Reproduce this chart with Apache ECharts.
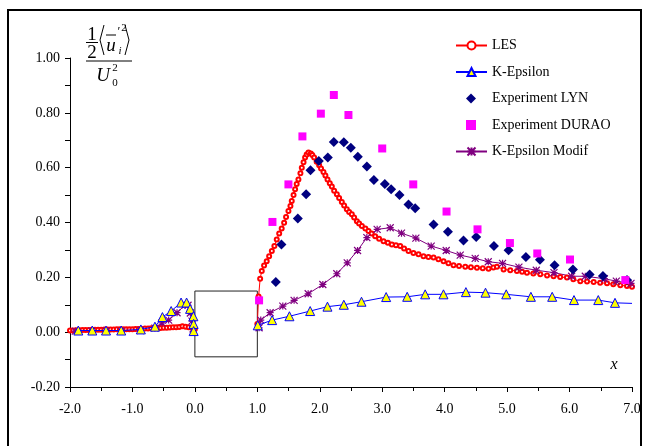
<!DOCTYPE html>
<html>
<head>
<meta charset="utf-8">
<script src="https://cdn.jsdelivr.net/npm/echarts@6/dist/echarts.min.js"></script>
<style>
  html, body { margin: 0; padding: 0; background: #fff; }
  #main { width: 648px; height: 446px; }
</style>
</head>
<body>
<div id="main"></div>
<script>
// values, [x, value]
var les = [
  [-2.0,0.006],[-1.95,0.006],[-1.9,0.007],[-1.85,0.007],[-1.8,0.008],[-1.75,0.008],[-1.7,0.008],[-1.65,0.009],
  [-1.6,0.009],[-1.55,0.009],[-1.5,0.009],[-1.45,0.010],[-1.4,0.010],[-1.35,0.010],[-1.3,0.010],[-1.25,0.011],
  [-1.2,0.011],[-1.15,0.011],[-1.1,0.011],[-1.05,0.011],[-1.0,0.011],[-0.95,0.012],[-0.9,0.012],[-0.85,0.012],
  [-0.8,0.013],[-0.75,0.013],[-0.7,0.014],[-0.65,0.014],[-0.6,0.015],[-0.55,0.015],[-0.5,0.016],[-0.45,0.016],
  [-0.4,0.017],[-0.35,0.018],[-0.3,0.018],[-0.25,0.019],[-0.2,0.022],[-0.15,0.020],[-0.1,0.018],[-0.05,0.016],
  [0.0,0.012],
  [0.5,null],
  [1.0,0.03],[1.02,0.13],[1.045,0.195],[1.071,0.223],[1.108,0.243],[1.15,0.259],[1.189,0.277],[1.232,0.296],
  [1.273,0.314],[1.311,0.338],[1.35,0.36],[1.39,0.378],[1.429,0.399],[1.46,0.42],[1.498,0.442],[1.53,0.46],
  [1.551,0.478],[1.58,0.50],[1.605,0.521],[1.63,0.54],[1.658,0.557],[1.69,0.58],[1.712,0.600],[1.74,0.62],
  [1.765,0.637],[1.79,0.648],[1.819,0.655],[1.857,0.652],[1.88,0.646],[1.91,0.637],[1.95,0.622],[1.99,0.609],
  [2.02,0.597],[2.059,0.584],[2.09,0.571],[2.124,0.557],[2.16,0.543],[2.193,0.531],[2.23,0.516],[2.273,0.503],
  [2.31,0.489],[2.353,0.475],[2.39,0.462],[2.433,0.448],[2.47,0.438],[2.513,0.43],[2.55,0.418],[2.594,0.405],
  [2.63,0.396],[2.674,0.387],[2.73,0.378],[2.78,0.369],[2.83,0.36],[2.887,0.350],[2.95,0.341],[3.021,0.332],
  [3.09,0.326],[3.154,0.320],[3.22,0.317],[3.288,0.314],[3.35,0.305],[3.421,0.296],[3.5,0.289],[3.581,0.284],
  [3.661,0.277],[3.74,0.274],[3.822,0.272],[3.9,0.266],[3.982,0.259],[4.06,0.251],[4.142,0.244],[4.23,0.241],
  [4.33,0.239],[4.42,0.237],[4.517,0.235],[4.61,0.233],[4.703,0.231],[4.78,0.236],[4.837,0.239],[4.944,0.229],
  [5.05,0.226],[5.157,0.223],[5.24,0.220],[5.318,0.217],[5.42,0.214],[5.531,0.211],[5.64,0.207],[5.744,0.204],
  [5.85,0.201],[5.958,0.199],[6.06,0.193],[6.172,0.186],[6.28,0.185],[6.386,0.183],[6.49,0.18],[6.6,0.178],
  [6.7,0.175],[6.813,0.171],[6.92,0.168],[7.0,0.166]
];

var kEpsilon = [
  [-1.867,0.006],[-1.643,0.006],[-1.423,0.006],[-1.18,0.006],[-0.865,0.01],[-0.64,0.02],[-0.52,0.055],
  [-0.38,0.077],[-0.221,0.108],[-0.133,0.108],[-0.077,0.085],[-0.024,0.058],[-0.02,0.03],[-0.02,0.004],
  [0.5,null],
  [1.007,0.025],[1.237,0.044],[1.514,0.058],[1.846,0.077],[2.123,0.093],[2.385,0.100],[2.668,0.111],
  [3.063,0.128],[3.40,0.129],[3.688,0.138],[3.981,0.138],[4.34,0.146],[4.654,0.144],[4.986,0.138],
  [5.381,0.129],[5.722,0.129],[6.071,0.117],[6.46,0.117],[6.728,0.107],[7.0,0.105]
];

var expLyn = [
  [1.296,0.183],[1.386,0.320],[1.648,0.415],[1.781,0.503],[1.851,0.591],[1.985,0.624],[2.129,0.637],
  [2.225,0.694],[2.385,0.693],[2.497,0.673],[2.609,0.640],[2.754,0.604],[2.866,0.555],[3.042,0.540],
  [3.143,0.521],[3.277,0.500],[3.421,0.466],[3.528,0.452],[3.822,0.393],[4.052,0.366],[4.302,0.334],
  [4.505,0.347],[4.789,0.314],[5.023,0.299],[5.301,0.274],[5.526,0.264],[5.760,0.244],[6.054,0.229],
  [6.321,0.210],[6.535,0.205],[6.920,0.190]
];

var expDurao = [
  [1.028,0.116],[1.242,0.402],[1.498,0.539],[1.722,0.714],[2.017,0.797],[2.225,0.865],[2.459,0.792],
  [3.000,0.670],[3.497,0.539],[4.030,0.440],[4.526,0.375],[5.045,0.325],[5.483,0.287],[6.007,0.265],
  [6.893,0.190]
];

var kEpsModif = [
  [-1.915,0.004],[-1.65,0.004],[-1.42,0.004],[-1.18,0.004],[-0.87,0.006],[-0.64,0.015],[-0.526,0.034],
  [-0.42,0.044],[-0.286,0.071],[-0.153,0.1],[-0.11,0.098],[-0.073,0.07],[-0.046,0.04],[-0.03,0.012],
  [0.5,null],
  [1.028,0.016],[1.055,0.044],[1.205,0.071],[1.408,0.095],[1.589,0.116],[1.814,0.140],[2.049,0.174],
  [2.273,0.213],[2.44,0.253],[2.605,0.298],[2.754,0.345],[2.919,0.375],[3.128,0.381],[3.309,0.361],
  [3.539,0.343],[3.784,0.314],[4.025,0.298],[4.249,0.281],[4.489,0.269],[4.698,0.257],[4.927,0.251],
  [5.189,0.237],[5.467,0.226],[5.751,0.217],[6.033,0.204],[6.252,0.204],[6.557,0.195],[6.749,0.186],
  [6.984,0.178]
];

// the obstacle outline
var body = [[0,-0.09],[0,0.15],[1,0.15],[1,-0.09],[0,-0.09]];

var legendNames = ['LES', 'K-Epsilon', 'Experiment LYN', 'Experiment DURAO', 'K-Epsilon Modif'];
var legendIsMarkerOnly = [false, false, true, true, false];

var font = 'Liberation Serif, Times New Roman, serif';
var starPath = 'path://M5,0L5,10M0,0L10,10M10,0L0,10M0,5L10,5';

var kEpsData = kEpsilon.map(function (p, i) {
    return i === kEpsilon.length - 1 ? { value: p, symbol: 'none' } : p;
});

// one legend block per row so marker-only rows keep square symbols
var legends = legendNames.map(function (name, i) {
    var markerOnly = legendIsMarkerOnly[i];
    return {
        data: [name],
        orient: 'vertical',
        left: markerOnly ? 461 : 450,
        top: 33.5 + i * 26.5,
        itemWidth: markerOnly ? 10 : 31,
        itemHeight: markerOnly ? 10 : 10,
        textStyle: {
            fontFamily: font, fontSize: 14, color: '#000',
            padding: markerOnly ? [0, 0, 0, 11] : 0
        }
    };
});

var myChart = echarts.init(document.getElementById('main'));

var option = {
    animation: false,
    backgroundColor: '#fff',
    textStyle: { fontFamily: font, color: '#000' },
    grid: { left: 70, right: 16, top: 58, bottom: 59 },
    legend: legends,
    xAxis: {
        type: 'value',
        min: -2,
        max: 7,
        interval: 1,
        axisLine: { onZero: false, lineStyle: { color: '#000', width: 1 } },
        axisTick: { inside: false, length: 5, lineStyle: { color: '#000' } },
        minorTick: { show: true, splitNumber: 2, length: 4, lineStyle: { color: '#000' } },
        splitLine: { show: false },
        axisLabel: {
            margin: 15, fontSize: 14, color: '#000', fontFamily: font,
            formatter: function (v) { return v.toFixed(1); }
        }
    },
    yAxis: {
        type: 'value',
        min: -0.2,
        max: 1.0,
        interval: 0.2,
        axisLine: { show: true, onZero: false, lineStyle: { color: '#000', width: 1 } },
        axisTick: { show: true, inside: false, length: 5, lineStyle: { color: '#000' } },
        minorTick: { show: true, splitNumber: 2, length: 5, lineStyle: { color: '#000' } },
        splitLine: { show: false },
        axisLabel: {
            margin: 10, fontSize: 14, color: '#000', fontFamily: font,
            formatter: function (v) { return v.toFixed(2); }
        }
    },
    graphic: [
        { type: 'rect', shape: { x: 8, y: 10, width: 633, height: 460 }, style: { fill: 'none', stroke: '#000', lineWidth: 2 }, silent: true },
        // y axis title : (1/2 <u'_i^2>) / U_0^2
        { type: 'text', x: 92, y: 35, style: { text: '1', font: '19px ' + font, fill: '#000', align: 'center', verticalAlign: 'middle' } },
        { type: 'line', shape: { x1: 86, y1: 42.5, x2: 98, y2: 42.5 }, style: { stroke: '#000', lineWidth: 1 } },
        { type: 'text', x: 92, y: 53, style: { text: '2', font: '19px ' + font, fill: '#000', align: 'center', verticalAlign: 'middle' } },
        { type: 'polyline', shape: { points: [[104, 25], [100, 40], [104, 55]] }, style: { stroke: '#000', lineWidth: 1, fill: null } },
        { type: 'text', x: 111, y: 46, style: { text: 'u', font: 'italic 19px ' + font, fill: '#000', align: 'center', verticalAlign: 'middle' } },
        { type: 'line', shape: { x1: 106, y1: 35, x2: 116, y2: 35 }, style: { stroke: '#000', lineWidth: 1 } },
        { type: 'text', x: 119, y: 32, style: { text: '\u2032', font: '13px ' + font, fill: '#000', align: 'center', verticalAlign: 'middle' } },
        { type: 'text', x: 124, y: 28, style: { text: '2', font: '11px ' + font, fill: '#000', align: 'center', verticalAlign: 'middle' } },
        { type: 'text', x: 120, y: 51, style: { text: 'i', font: 'italic 11px ' + font, fill: '#000', align: 'center', verticalAlign: 'middle' } },
        { type: 'polyline', shape: { points: [[125, 25], [129, 40], [125, 55]] }, style: { stroke: '#000', lineWidth: 1, fill: null } },
        { type: 'line', shape: { x1: 86, y1: 61, x2: 132, y2: 61 }, style: { stroke: '#000', lineWidth: 1 } },
        { type: 'text', x: 103, y: 76, style: { text: 'U', font: 'italic 19px ' + font, fill: '#000', align: 'center', verticalAlign: 'middle' } },
        { type: 'text', x: 115, y: 68, style: { text: '2', font: '11px ' + font, fill: '#000', align: 'center', verticalAlign: 'middle' } },
        { type: 'text', x: 115, y: 83, style: { text: '0', font: '11px ' + font, fill: '#000', align: 'center', verticalAlign: 'middle' } },
        // x axis name
        { type: 'text', x: 614, y: 365, style: { text: 'x', font: 'italic 16px ' + font, fill: '#000', align: 'center', verticalAlign: 'middle' } }
    ],
    series: [
        {
            name: 'body', type: 'line', data: body, symbol: 'none', silent: true, z: 1,
            lineStyle: { color: '#222', width: 1 }
        },
        {
            name: 'LES', type: 'line', data: les, symbol: 'emptyCircle', symbolSize: 4, z: 3,
            lineStyle: { color: '#ff0000', width: 1 },
            itemStyle: { color: '#ff0000', borderColor: '#ff0000', borderWidth: 1 }
        },
        {
            name: 'K-Epsilon', type: 'line', data: kEpsData, symbol: 'triangle', symbolSize: 9, z: 4,
            lineStyle: { color: '#0000ff', width: 1 },
            itemStyle: { color: '#ffff00', borderColor: '#0000ff', borderWidth: 1 }
        },
        {
            name: 'Experiment LYN', type: 'scatter', data: expLyn, symbol: 'diamond', symbolSize: 10, z: 5,
            itemStyle: { color: '#000080', opacity: 1 }
        },
        {
            name: 'Experiment DURAO', type: 'scatter', data: expDurao, symbol: 'rect', symbolSize: 8, z: 5,
            itemStyle: { color: '#ff00ff', opacity: 1 }
        },
        {
            name: 'K-Epsilon Modif', type: 'line', data: kEpsModif, symbol: starPath, symbolSize: 7, z: 3,
            lineStyle: { color: '#800080', width: 1 },
            itemStyle: { color: '#800080', borderColor: '#800080', borderWidth: 1.2 }
        }
    ]
};

myChart.setOption(option);
</script>
</body>
</html>
